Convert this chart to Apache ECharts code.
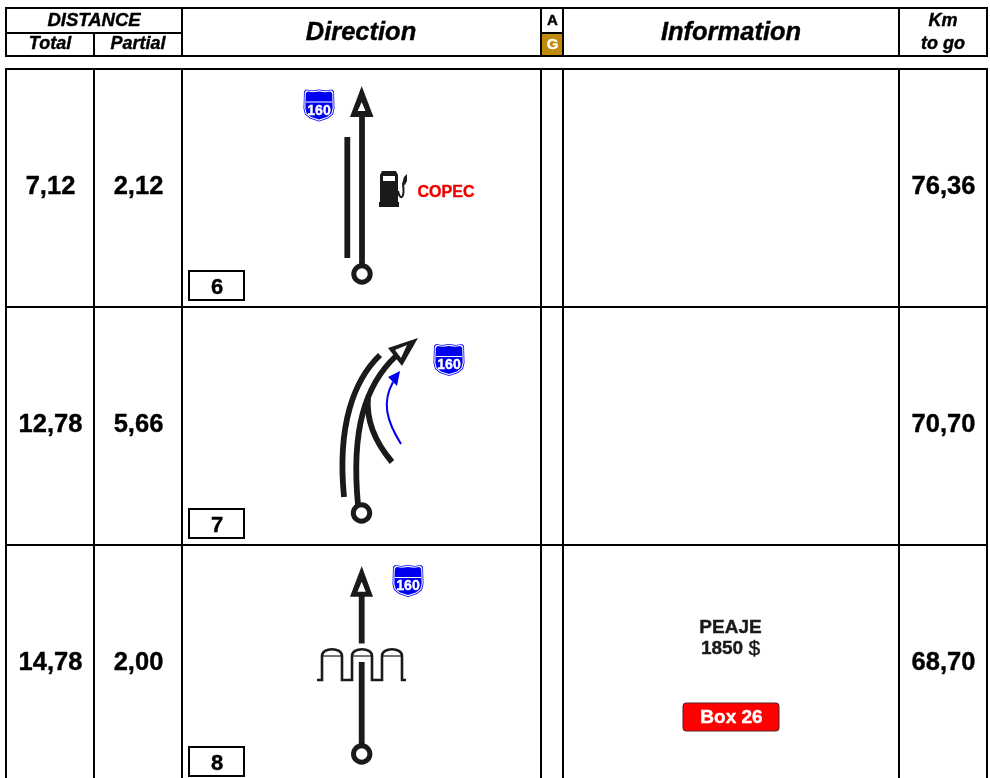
<!DOCTYPE html>
<html>
<head>
<meta charset="utf-8">
<title>Roadbook</title>
<script src="https://cdn.jsdelivr.net/npm/echarts@6/dist/echarts.min.js"></script>
<style>
html,body{margin:0;padding:0;background:#fff;overflow:hidden;}
#main{width:990px;height:778px;}
</style>
</head>
<body>
<div id="main"></div>
<script>
// roadbook values
var totals = ['7,12', '12,78', '14,78'];
var partials = ['2,12', '5,66', '2,00'];
var kmToGo = ['76,36', '70,70', '68,70'];
var boxNumbers = ['6', '7', '8'];
var roadNumber = '160';
var stationName = 'COPEC';
var tollName = 'PEAJE';
var tollPrice = '1850 ';
var tollCurrency = '$';
var serviceBox = 'Box 26';

// the axes below run in sheet units, one per pixel
var colEdges = [6, 94, 182, 541, 563, 899, 987];
var rowEdges = [69, 307, 545, 783];
var BLACK = '#000';
var INK = '#1a1a1a';
var BLUE = '#0000f0';
var FONT = '"Liberation Sans", Arial, sans-serif';
var ROAD = 5.8;

var rules = [
  [6, 8, 182, 8], [6, 33, 182, 33], [6, 56, 182, 56],
  [6, 7, 6, 57], [94, 33, 94, 57], [182, 7, 182, 57],
  [182, 8, 987, 8], [182, 56, 987, 56],
  [541, 7, 541, 57], [563, 7, 563, 57], [899, 7, 899, 57], [987, 7, 987, 57],
  [541, 33, 563, 33]
];
colEdges.forEach(function (x) { rules.push([x, 68, x, 778]); });
rowEdges.slice(0, 3).forEach(function (y) { rules.push([5, y, 988, y]); });

var headers = [
  ['DISTANCE', 94, 20.5, 18.5], ['Total', 50, 44.5, 18], ['Partial', 138, 44.5, 18],
  ['Direction', 361, 32.5, 25.5], ['Information', 731, 32.5, 25.5],
  ['Km', 943, 21.5, 18], ['to go', 943, 44.5, 18]
];

function poly(pts, fill) { return {kind: 'poly', pts: pts, fill: fill}; }
function path(pts, w, color) { return {kind: 'path', pts: pts, w: w, color: color || INK}; }
function curve(pts, w, color) { return {kind: 'curve', pts: pts, w: w, color: color || INK}; }
function ring(x, y) { return {kind: 'ring', x: x, y: y}; }

var shieldShape = [[-15,-14],[-13,-16],[-7,-15],[0,-16],[7,-15],[13,-16],[15,-14],[15.5,3],[14,9],[9,13],[0,16],[-9,13],[-14,9],[-15.5,3]];
function shield(cx, cy) {
  function at(scale) {
    return shieldShape.map(function (p) { return [cx + p[0] * scale, cy + p[1] * scale]; });
  }
  return [poly(at(1), BLUE), poly(at(0.95), '#fff'), poly(at(0.88), BLUE),
    path([[cx - 13, cy - 3.5], [cx + 13, cy - 3.5]], 1, '#fff'),
    {kind: 'label', text: roadNumber, x: cx, y: cy + 5.5, size: 14, fill: '#fff'}];
}
function dome(cx) {
  return [
    curve([[cx - 10, 656], [cx - 10, 647], [cx + 10, 647], [cx + 10, 656]], 2.6),
    path([[cx - 9, 656], [cx + 9, 656]], 1.2)
  ];
}

var routeMarks = [].concat(
  // first row
  [path([[362, 274], [362, 112]], ROAD), poly([[361.7, 86], [373.5, 117], [350, 117]], INK),
    poly([[361.7, 102], [365.5, 111], [357.7, 111]], '#fff'),
    path([[347.3, 137], [347.3, 258]], ROAD), ring(362, 274)],
  shield(319, 105.5),
  [poly([[380,175],[382,171],[396,171],[398,175],[398,202],[399,202],[399,207],[379,207],[379,202],[380,202]], INK),
    poly([[383,176],[395,176],[395,181],[383,181]], '#fff'),
    curve([[398, 191], [400, 201], [405, 199], [403, 184]], 2),
    poly([[402,184],[404,177],[407,174],[407,181],[405,185]], INK),
    {kind: 'label', text: stationName, x: 446, y: 192.5, size: 16, fill: '#f00000'}],
  // second row
  [curve([[344, 497], [337, 425], [354, 380], [380, 355]], ROAD),
    curve([[358, 505], [351, 430], [365, 385], [396, 356]], ROAD),
    curve([[392, 462], [375, 442], [366, 420], [368, 397]], ROAD),
    poly([[418, 338], [388, 348], [402, 366]], INK),
    poly([[407, 345], [395, 350], [401, 358]], '#fff'),
    curve([[401, 444], [386, 420], [382, 402], [393, 382]], 2, BLUE),
    poly([[400, 371], [388, 377], [397, 386]], BLUE),
    ring(361.5, 513)],
  shield(449, 360),
  // third row
  [path([[361.7, 595], [361.7, 643.5]], ROAD), poly([[361.7, 566], [373, 596.7], [350, 596.7]], INK),
    poly([[361.7, 581.7], [365.7, 591.7], [357.5, 591.7]], '#fff'),
    path([[361.7, 662], [361.7, 754]], ROAD), ring(361.7, 754),
    path([[317,680],[322,680],[322,656]], 2.6), path([[342,656],[342,680],[352,680],[352,656]], 2.6),
    path([[372,656],[372,680],[382,680],[382,656]], 2.6), path([[402,656],[402,680],[406,680]], 2.6)],
  dome(332), dome(362), dome(392),
  shield(408, 581)
);

// shared helper for every custom series: data is only the mark index
function markSeries(list, draw) {
  return {
    type: 'custom',
    coordinateSystem: 'cartesian2d',
    silent: true,
    clip: false,
    animation: false,
    data: list.map(function (m, i) { return [i]; }),
    encode: {x: 0, y: 0},
    renderItem: function (params, api) {
      return draw(list[params.dataIndex], api, params.dataIndex);
    }
  };
}

// a thin stroke of the same colour gives the heavier look of the scanned text
function textEl(api, text, x, y, size, opts) {
  opts = opts || {};
  var p = api.coord([x, y]);
  var color = opts.fill || BLACK;
  return {
    type: 'text',
    style: {
      text: text, x: p[0], y: p[1], align: 'center', verticalAlign: 'middle',
      font: (opts.italic ? 'italic ' : '') + 'bold ' + size + 'px ' + FONT,
      fill: color, stroke: color, lineWidth: 0.4, rich: opts.rich
    }
  };
}

function drawRoute(m, api) {
  function pts(list) { return list.map(function (p) { return api.coord(p); }); }
  if (m.kind === 'poly') {
    return {type: 'polygon', shape: {points: pts(m.pts)}, style: {fill: m.fill}};
  }
  if (m.kind === 'path') {
    return {type: 'polyline', shape: {points: pts(m.pts)}, style: {fill: 'none', stroke: m.color, lineWidth: m.w}};
  }
  if (m.kind === 'curve') {
    var c = pts(m.pts);
    return {
      type: 'bezierCurve',
      shape: {x1: c[0][0], y1: c[0][1], cpx1: c[1][0], cpy1: c[1][1], cpx2: c[2][0], cpy2: c[2][1], x2: c[3][0], y2: c[3][1]},
      style: {fill: 'none', stroke: m.color, lineWidth: m.w}
    };
  }
  if (m.kind === 'ring') {
    var r = api.coord([m.x, m.y]);
    return {type: 'circle', shape: {cx: r[0], cy: r[1], r: 8.2}, style: {fill: '#fff', stroke: INK, lineWidth: 5}};
  }
  return textEl(api, m.text, m.x, m.y, m.size, {fill: m.fill});
}

var rowIndex = [0, 1, 2];
var chart = echarts.init(document.getElementById('main'), null, {renderer: 'canvas'});
chart.setOption({
  backgroundColor: '#fff',
  animation: false,
  grid: {left: 0, right: 0, top: 0, bottom: 0},
  xAxis: {type: 'value', min: 0, max: 990, show: false},
  yAxis: {type: 'value', min: 0, max: 778, inverse: true, show: false},
  series: [
    // A/G cell fill
    markSeries([[542, 33, 562, 56]], function (d, api) {
      var a = api.coord([d[0], d[1]]), b = api.coord([d[2], d[3]]);
      return {type: 'rect', shape: {x: a[0], y: a[1], width: b[0] - a[0], height: b[1] - a[1]}, style: {fill: '#c08a0c'}};
    }),
    markSeries(rules, function (d, api) {
      var a = api.coord([d[0], d[1]]), b = api.coord([d[2], d[3]]);
      return {type: 'line', shape: {x1: a[0], y1: a[1], x2: b[0], y2: b[1]}, style: {stroke: BLACK, lineWidth: 2}};
    }),
    markSeries(headers, function (d, api) {
      return textEl(api, d[0], d[1], d[2], d[3], {italic: true});
    }),
    markSeries(['A', 'G'], function (d, api, i) {
      return textEl(api, d, 552.5, i ? 44.5 : 20.5, 15, {fill: i ? '#fff' : BLACK});
    }),
    // table values, one row each
    markSeries(rowIndex, function (r, api) {
      var y = rowEdges[r] + 117.5;
      return {type: 'group', children: [
        textEl(api, totals[r], 50.5, y, 25.5),
        textEl(api, partials[r], 138.5, y, 25.5),
        textEl(api, kmToGo[r], 943.5, y, 25.5)
      ]};
    }),
    // numbered boxes
    markSeries(boxNumbers, function (d, api, i) {
      var top = rowEdges[i] + 202;
      var a = api.coord([189, top]), b = api.coord([244, top + 29]);
      return {type: 'group', children: [
        {type: 'rect', shape: {x: a[0], y: a[1], width: b[0] - a[0], height: b[1] - a[1]}, style: {fill: '#fff', stroke: BLACK, lineWidth: 2}},
        textEl(api, d, 217, top + 16.5, 22)
      ]};
    }),
    markSeries(routeMarks, drawRoute),
    // toll text and service box
    markSeries([0], function (d, api) {
      var a = api.coord([683, 703]), b = api.coord([779, 731]);
      return {type: 'group', children: [
        textEl(api, tollName, 730.5, 628, 19, {fill: INK}),
        textEl(api, '{b|' + tollPrice + '}{r|' + tollCurrency + '}', 730.5, 649, 19, {fill: INK, rich: {
          b: {fontFamily: FONT, fontWeight: 'bold', fontSize: 19, fill: INK, stroke: INK, lineWidth: 0.4},
          r: {fontFamily: FONT, fontWeight: 'normal', fontSize: 21, fill: INK}
        }}),
        {type: 'rect', shape: {x: a[0], y: a[1], width: b[0] - a[0], height: b[1] - a[1], r: 3}, style: {fill: '#ff0000', stroke: '#5a2020', lineWidth: 1}},
        textEl(api, serviceBox, 731.5, 718, 19, {fill: '#fff'})
      ]};
    })
  ]
});
</script>
</body>
</html>
